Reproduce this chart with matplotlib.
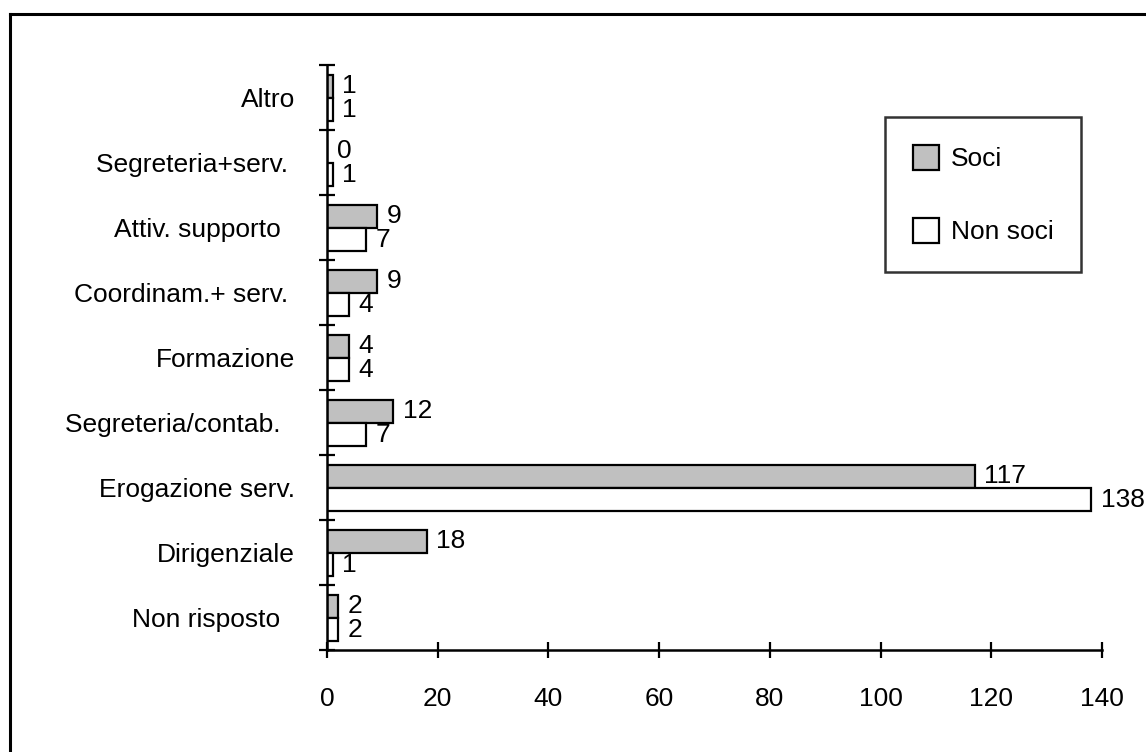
import matplotlib
matplotlib.use("Agg")
import matplotlib.pyplot as plt
import numpy as np
from matplotlib.lines import Line2D

plt.rcParams['font.family'] = ['Liberation Sans', 'DejaVu Sans']

categories = ["Altro", "Segreteria+serv. ", "Attiv. supporto  ", "Coordinam.+ serv. ",
              "Formazione", "Segreteria/contab.  ", "Erogazione serv.", "Dirigenziale",
              "Non risposto  "]
soci = [1, 0, 9, 9, 4, 12, 117, 18, 2]
non_soci = [1, 1, 7, 4, 4, 7, 138, 1, 2]
x_ticks = [0, 20, 40, 60, 80, 100, 120, 140]

FS = 19
fig = plt.figure(figsize=(11.46, 7.52), dpi=100)
ax = fig.add_axes([327/1146, 102/752, (1102-327)/1146, (650-65)/752])

n = len(categories)
ypos = np.arange(n)[::-1]
h = 0.35
ax.barh(ypos + 0.17, soci, height=h, color='#C0C0C0', edgecolor='black', linewidth=1.6, label='Soci')
ax.barh(ypos - 0.19, non_soci, height=h, color='white', edgecolor='black', linewidth=1.6, label='Non soci')

for y, v in zip(ypos + 0.17, soci):
    ax.annotate(str(v), (v, y), xytext=(7, 0), textcoords='offset points', va='center', ha='left', fontsize=FS)
for y, v in zip(ypos - 0.19, non_soci):
    ax.annotate(str(v), (v, y), xytext=(7, 0), textcoords='offset points', va='center', ha='left', fontsize=FS)

ax.set_xlim(0, 140)
ax.set_ylim(-0.5, n - 0.5)
ax.set_xticks(x_ticks)
ax.set_xticklabels([str(t) for t in x_ticks], fontsize=FS)
ax.set_yticks(ypos)
ax.set_yticklabels(categories, fontsize=FS)
ax.set_yticks(np.arange(-0.5, n, 1.0), minor=True)
ax.tick_params(axis='y', which='major', length=0, pad=23)
ax.tick_params(axis='y', which='minor', direction='inout', length=12, width=1.6)
ax.tick_params(axis='x', which='major', direction='inout', length=12, width=1.6, pad=21)
for s in ['top', 'right']:
    ax.spines[s].set_visible(False)
for s in ['left', 'bottom']:
    ax.spines[s].set_linewidth(1.8)

leg = ax.legend(loc='upper left', bbox_to_anchor=((885-327)/775, (650-117)/585),
                fontsize=FS, frameon=True, fancybox=False, edgecolor='black',
                handlelength=1.0, handleheight=1.1, handletextpad=0.45,
                labelspacing=1.75, borderpad=1.05, borderaxespad=0)
leg.get_frame().set_linewidth(1.8)

# outer chart border (top and left visible)
fig.add_artist(Line2D([10/1146, 1.0], [1 - 14/752, 1 - 14/752], transform=fig.transFigure, color='black', linewidth=2.2))
fig.add_artist(Line2D([10/1146, 10/1146], [0.0, 1 - 14/752], transform=fig.transFigure, color='black', linewidth=2.2))

fig.savefig("out.png", dpi=100)
